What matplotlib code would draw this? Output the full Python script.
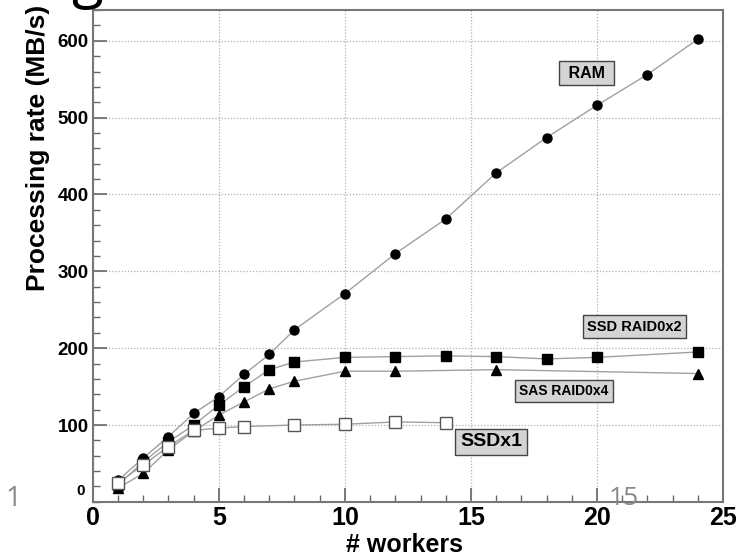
import matplotlib
matplotlib.use("Agg")
import matplotlib.pyplot as plt
from matplotlib.ticker import MultipleLocator

plt.rcParams["font.family"] = ["Liberation Sans", "DejaVu Sans"]

# data
ram_x = [1, 2, 3, 4, 5, 6, 7, 8, 10, 12, 14, 16, 18, 20, 22, 24]
ram_y = [28, 57, 85, 115, 137, 166, 192, 224, 271, 323, 368, 428, 474, 516, 556, 602]

ssd2_x = [1, 2, 3, 4, 5, 6, 7, 8, 10, 12, 14, 16, 18, 20, 24]
ssd2_y = [22, 52, 78, 100, 126, 150, 172, 182, 188, 189, 190, 189, 186, 188, 195]

sas4_x = [1, 2, 3, 4, 5, 6, 7, 8, 10, 12, 16, 24]
sas4_y = [18, 37, 68, 92, 113, 130, 147, 157, 170, 170, 172, 167]

ssd1_x = [1, 2, 3, 4, 5, 6, 8, 10, 12, 14]
ssd1_y = [25, 48, 72, 93, 96, 98, 100, 101, 104, 103]

fig = plt.figure(figsize=(7.43, 5.57), dpi=100)
ax = fig.add_axes([0.125, 0.099, 0.848, 0.883])

line_kw = dict(color="#a0a0a0", lw=1.0, zorder=2)
ax.plot(ram_x, ram_y, marker="o", ms=6.5, mfc="black", mec="black", **line_kw)
ax.plot(ssd2_x, ssd2_y, marker="s", ms=6.5, mfc="black", mec="black", **line_kw)
ax.plot(sas4_x, sas4_y, marker="^", ms=7, mfc="black", mec="black", **line_kw)
ax.plot(ssd1_x, ssd1_y, marker="s", ms=8, mfc="white", mec="#555555", mew=1.0, **line_kw)

ax.set_xlim(0, 25)
ax.set_ylim(0, 640)
ax.set_xticks(range(0, 26, 5))
ax.xaxis.set_minor_locator(MultipleLocator(1))
# y "0" is drawn on its own below, a little higher so it clears the x "0"
ax.set_yticks(range(100, 601, 100))
ax.yaxis.set_minor_locator(MultipleLocator(20))
ax.tick_params(which="both", direction="in", color="#666666", top=False, right=False)
ax.tick_params(which="major", length=10, width=1.2, pad=3)
ax.tick_params(which="minor", length=5, width=1.0)
ax.tick_params(axis="x", which="major", labelsize=18, pad=3)
ax.tick_params(axis="y", which="major", labelsize=13.5)
for lab in ax.get_xticklabels() + ax.get_yticklabels():
    lab.set_fontweight("bold")
ax.annotate("0", xy=(0, 0), xytext=(-9, 8), textcoords="offset points",
            ha="center", va="center", fontsize=11, fontweight="bold", annotation_clip=False)

ax.grid(True, which="major", ls=(0, (1, 1.5)), color="#b0b0b0", lw=0.9)
for s in ax.spines.values():
    s.set_color("#777777")
    s.set_linewidth(1.5)

ax.set_xlabel("# workers", fontsize=18, fontweight="bold")
ax.xaxis.set_label_coords(0.495, -0.063)
ax.set_ylabel("Processing rate (MB/s)", fontsize=19, fontweight="bold")
ax.yaxis.set_label_coords(-0.068, 0.72)

box = dict(boxstyle="square,pad=0.3", fc="#d4d4d4", ec="#444444", lw=1.0)
ax.text(19.6, 558, " RAM ", fontsize=11.5, fontweight="bold", ha="center", va="center", bbox=box)
ax.text(21.5, 228, "SSD RAID0x2", fontsize=10.5, fontweight="bold", ha="center", va="center", bbox=box)
ax.text(18.7, 144, "SAS RAID0x4", fontsize=10, fontweight="bold", ha="center", va="center", bbox=box)
ax.text(15.8, 78, "SSDx1", fontsize=14, fontweight="bold", ha="center", va="center",
        bbox=dict(boxstyle="square,pad=0.25", fc="#d4d4d4", ec="#444444", lw=1.0))

# slide leftovers around the chart
fig.text(0.018, 0.105, "1", fontsize=20, color="#888888", family="Open Sans", ha="center", va="center")
fig.text(0.84, 0.105, "15", fontsize=19, color="#888888", family="Open Sans", ha="center", va="center")
fig.text(0.117, 1.008, "g", fontsize=42, color="black", family="Open Sans", ha="center", va="baseline")

fig.savefig("out.png", dpi=100)
